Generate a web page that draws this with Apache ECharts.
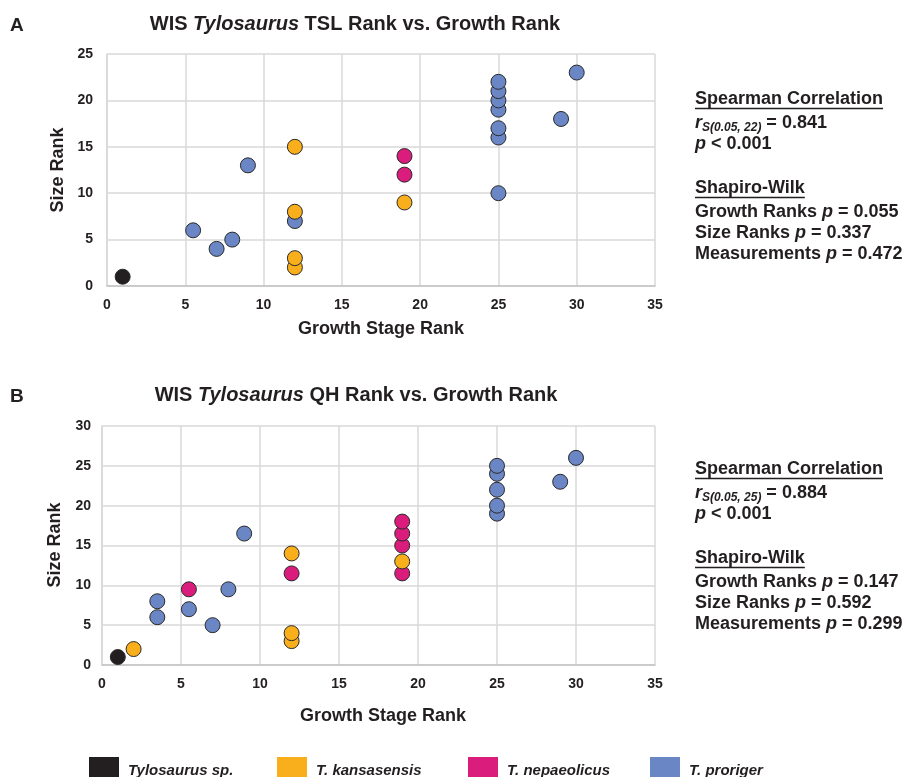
<!DOCTYPE html>
<html>
<head>
<meta charset="utf-8">
<script src="https://cdn.jsdelivr.net/npm/echarts@6/dist/echarts.min.js"></script>
<style>
  html, body { margin: 0; padding: 0; background: #ffffff; }
  #chart { width: 906px; height: 777px; }
</style>
</head>
<body>
<div id="chart"></div>
<script>
// Species shown in both panels, in legend order
const species = ['Tylosaurus sp.', 'T. kansasensis', 'T. nepaeolicus', 'T. proriger'];
const speciesColors = ['#231f20', '#f9ae1b', '#da1d7c', '#6a86c5'];

// Panel A: [growth stage rank, TSL size rank]
const tslTylosaurus = [[1, 1]];
const tslKansasensis = [[12, 2], [12, 3], [12, 8], [19, 9], [12, 15]];
const tslNepaeolicus = [[19, 12], [19, 14]];
const tslProriger = [[7, 4], [8, 5], [5.5, 6], [12, 7], [25, 10], [9, 13], [25, 16], [25, 17],
  [29, 18], [25, 19], [25, 20], [25, 21], [25, 22], [30, 23]];

// Panel B: [growth stage rank, QH size rank]
const qhTylosaurus = [[1, 1]];
const qhKansasensis = [[2, 2], [12, 3], [12, 4], [19, 13], [12, 14]];
const qhNepaeolicus = [[5.5, 9.5], [12, 11.5], [19, 11.5], [19, 15], [19, 16.5], [19, 18]];
const qhProriger = [[7, 5], [3.5, 6], [5.5, 7], [3.5, 8], [8, 9.5], [9, 16.5], [25, 19], [25, 20],
  [25, 22], [29, 23], [25, 24], [25, 25], [30, 26]];

// Axis extents and tick steps
const xTicks = { min: 0, max: 35, interval: 5 };
const yTicksA = { min: 0, max: 25, interval: 5 };
const yTicksB = { min: 0, max: 30, interval: 5 };

// Statistics text blocks
const statsA = { df: '0.05, 22', rs: '0.841', p: '0.001', growth: '0.055', size: '0.337', meas: '0.472' };
const statsB = { df: '0.05, 25', rs: '0.884', p: '0.001', growth: '0.147', size: '0.592', meas: '0.299' };

const FONT = '"Liberation Sans", Arial, Helvetica, sans-serif';
const INK = '#231f20';

const measureCtx = document.createElement('canvas').getContext('2d');
function textWidth(str, size) {
  measureCtx.font = 'bold ' + size + 'px ' + FONT;
  return measureCtx.measureText(str).width;
}

function axisPair(gridIndex, yTicks) {
  const labelStyle = { fontFamily: FONT, fontWeight: 'bold', fontSize: 14, color: INK };
  return {
    x: {
      type: 'value', gridIndex, min: xTicks.min, max: xTicks.max, interval: xTicks.interval,
      axisLine: { show: true, lineStyle: { color: '#c4c4c4', width: 1.5 } },
      axisTick: { show: false },
      splitLine: { show: true, lineStyle: { color: '#d9d9d9', width: 1.5 } },
      axisLabel: Object.assign({ margin: 12 }, labelStyle)
    },
    y: {
      type: 'value', gridIndex, min: yTicks.min, max: yTicks.max, interval: yTicks.interval,
      axisLine: { show: true, lineStyle: { color: '#d9d9d9', width: 1.5 } },
      axisTick: { show: false },
      splitLine: { show: true, lineStyle: { color: '#d9d9d9', width: 1.5 } },
      axisLabel: Object.assign({ margin: gridIndex === 0 ? 14 : 11 }, labelStyle)
    }
  };
}

const axesA = axisPair(0, yTicksA);
const axesB = axisPair(1, yTicksB);

function scatter(name, idx, data, axisIndex) {
  const zOrder = [5, 4, 3, 2];
  return {
    name, type: 'scatter', xAxisIndex: axisIndex, yAxisIndex: axisIndex,
    data, symbol: 'circle', symbolSize: 15, z: zOrder[idx],
    itemStyle: { color: speciesColors[idx], borderColor: '#2a2a2a', borderWidth: 1, opacity: 1 },
    emphasis: { disabled: true }
  };
}

const panelA = [tslTylosaurus, tslKansasensis, tslNepaeolicus, tslProriger];
const panelB = [qhTylosaurus, qhKansasensis, qhNepaeolicus, qhProriger];
const series = [];
panelA.forEach((d, i) => series.push(scatter(species[i], i, d, 0)));
panelB.forEach((d, i) => series.push(scatter(species[i], i, d, 1)));

// Text helpers for the graphic layer
function txt(x, y, text, opts) {
  return {
    type: 'text', x, y, silent: true,
    style: Object.assign({
      text, fill: INK, font: 'bold 18px ' + FONT, align: 'left', verticalAlign: 'middle'
    }, opts || {})
  };
}

function title(x, y, species, measure) {
  return {
    type: 'text', x, y, silent: true,
    style: {
      text: '{n|WIS }{i|' + species + '}{n| ' + measure + ' Rank vs. Growth Rank}',
      align: 'center', verticalAlign: 'middle', fill: INK,
      rich: {
        n: { fontFamily: FONT, fontWeight: 'bold', fontSize: 20, fill: INK },
        i: { fontFamily: FONT, fontWeight: 'bold', fontStyle: 'italic', fontSize: 20, fill: INK }
      }
    }
  };
}

function statsBlock(x, y0, s) {
  const rich = {
    b: { fontFamily: FONT, fontWeight: 'bold', fontSize: 18, fill: INK, lineHeight: 22, verticalAlign: 'middle' },
    i: { fontFamily: FONT, fontWeight: 'bold', fontStyle: 'italic', fontSize: 18, fill: INK, lineHeight: 22, verticalAlign: 'middle' },
    sub: { fontFamily: FONT, fontWeight: 'bold', fontStyle: 'italic', fontSize: 12, fill: INK, lineHeight: 12, verticalAlign: 'bottom' }
  };
  const rt = (yy, str) => ({
    type: 'text', x, y: yy, silent: true,
    style: { text: str, rich, align: 'left', verticalAlign: 'middle' }
  });
  const h1 = 'Spearman Correlation';
  const h2 = 'Shapiro-Wilk';
  const els = [
    txt(x, y0, h1),
    { type: 'line', silent: true, shape: { x1: x, y1: y0 + 9.5, x2: x + textWidth(h1, 18), y2: y0 + 9.5 }, style: { stroke: INK, lineWidth: 1.5 } },
    rt(y0 + 24, '{i|r}{sub|S(' + s.df + ')}{b| = ' + s.rs + '}'),
    rt(y0 + 45, '{i|p}{b| < ' + s.p + '}'),
    txt(x, y0 + 89, h2),
    { type: 'line', silent: true, shape: { x1: x, y1: y0 + 98.5, x2: x + textWidth(h2, 18), y2: y0 + 98.5 }, style: { stroke: INK, lineWidth: 1.5 } },
    rt(y0 + 113, '{b|Growth Ranks }{i|p}{b| = ' + s.growth + '}'),
    rt(y0 + 134, '{b|Size Ranks }{i|p}{b| = ' + s.size + '}'),
    rt(y0 + 155, '{b|Measurements }{i|p}{b| = ' + s.meas + '}')
  ];
  return els;
}

const legendLeft = [89, 277, 468, 650];

const option = {
  animation: false,
  backgroundColor: '#ffffff',
  grid: [
    { left: 107, top: 54, width: 548, height: 232, outerBoundsMode: 'none' },
    { left: 102, top: 426, width: 553, height: 239, outerBoundsMode: 'none' }
  ],
  xAxis: [axesA.x, axesB.x],
  yAxis: [axesA.y, axesB.y],
  legend: species.map((name, i) => ({
    data: [name], left: legendLeft[i], top: 757, padding: 0,
    orient: 'horizontal', icon: 'rect', itemWidth: 30, itemHeight: 28, itemGap: 0,
    selectedMode: false,
    itemStyle: { borderWidth: 0 },
    textStyle: { fontFamily: FONT, fontWeight: 'bold', fontStyle: 'italic', fontSize: 15, color: INK, padding: [0, 0, 0, 4] }
  })),
  series,
  graphic: [
    txt(10, 26, 'A', { font: 'bold 19px ' + FONT }),
    title(355, 24, 'Tylosaurus', 'TSL'),
    txt(381, 329, 'Growth Stage Rank', { align: 'center' }),
    Object.assign(txt(58, 170, 'Size Rank', { align: 'center' }), { rotation: Math.PI / 2 }),
    txt(10, 397, 'B', { font: 'bold 19px ' + FONT }),
    title(356, 395, 'Tylosaurus', 'QH'),
    txt(383, 716, 'Growth Stage Rank', { align: 'center' }),
    Object.assign(txt(55, 545, 'Size Rank', { align: 'center' }), { rotation: Math.PI / 2 })
  ].concat(statsBlock(695, 99, statsA), statsBlock(695, 469, statsB))
};

const chart = echarts.init(document.getElementById('chart'), null, { renderer: 'canvas' });
chart.setOption(option);
</script>
</body>
</html>
